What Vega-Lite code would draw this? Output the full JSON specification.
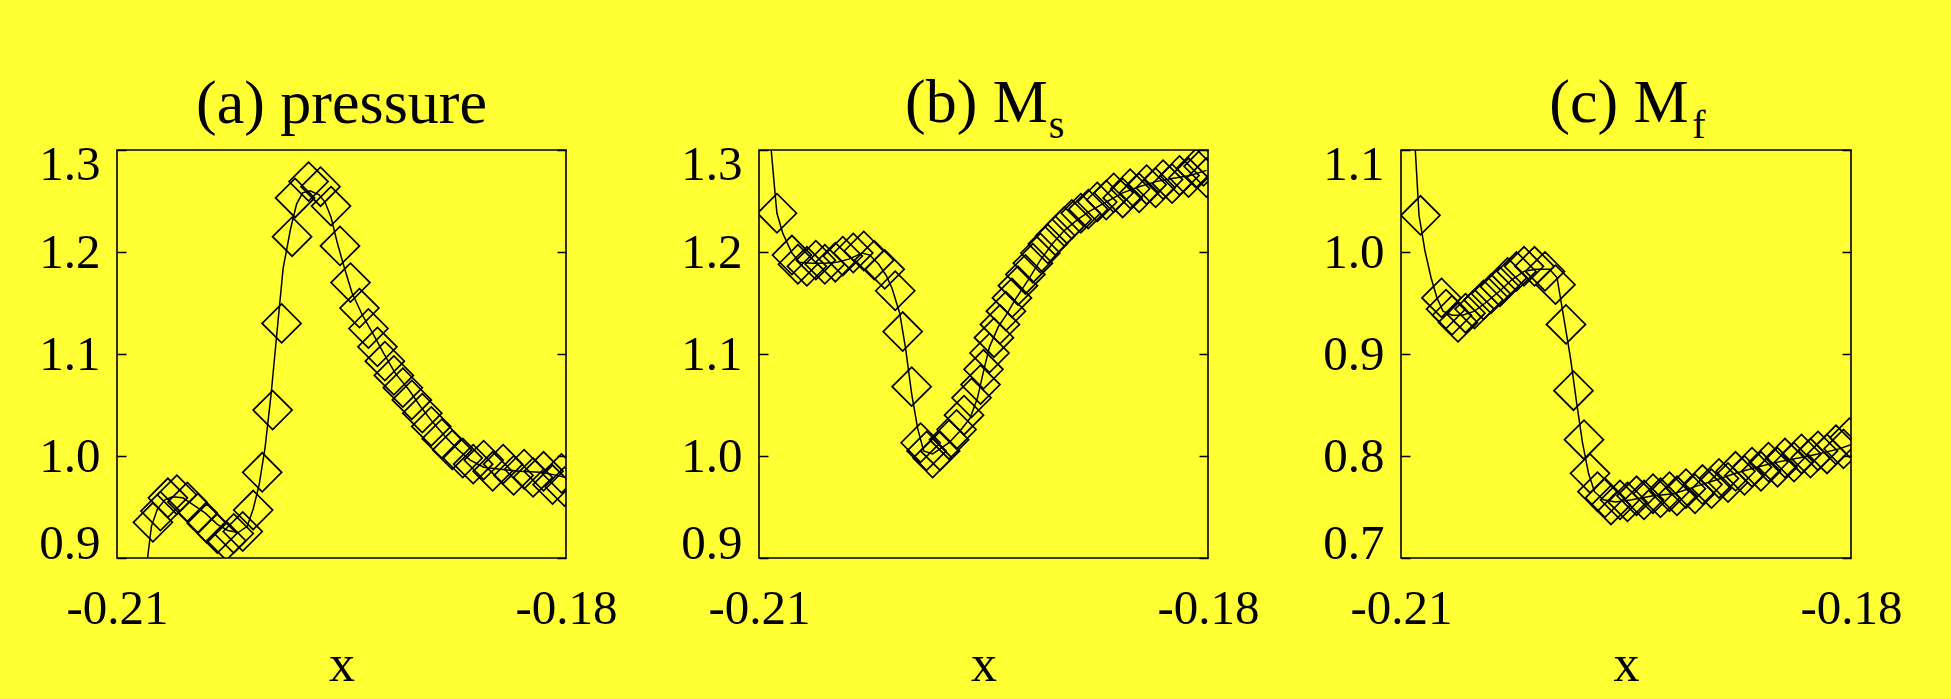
{
  "$schema": "https://vega.github.io/schema/vega-lite/v6.json",
  "background": "#ffff33",
  "padding": {"left": 37, "top": 71, "right": 55, "bottom": 11},
  "spacing": 61,
  "config": {
    "font": "Liberation Serif",
    "view": {"stroke": "black", "strokeWidth": 1.6},
    "axis": {"grid": false, "domain": false, "labelFont": "Liberation Serif", "labelFontSize": 49, "labelColor": "black", "titleFont": "Liberation Serif", "titleColor": "black", "titleFontWeight": "normal", "tickColor": "black", "tickWidth": 1.5},
    "axisX": {"ticks": false, "labelPadding": 26, "labelFlush": false, "labelOverlap": false, "titleFontSize": 52, "titlePadding": 6},
    "title": {"font": "Liberation Serif", "fontSize": 62, "fontWeight": "normal", "color": "black", "anchor": "middle", "frame": "group", "subtitleFont": "Liberation Serif", "subtitleFontSize": 40, "subtitleColor": "black"}
  },
  "datasets": {
    "a_pts": [
      {"x": -0.2076, "y": 0.935}, {"x": -0.2071, "y": 0.946}, {"x": -0.2066, "y": 0.959}, {"x": -0.2060, "y": 0.962}, {"x": -0.2053, "y": 0.955}, {"x": -0.2046, "y": 0.944}, {"x": -0.2040, "y": 0.934}, {"x": -0.2033, "y": 0.924}, {"x": -0.2027, "y": 0.917}, {"x": -0.2022, "y": 0.924}, {"x": -0.2016, "y": 0.926}, {"x": -0.2009, "y": 0.947}, {"x": -0.2003, "y": 0.984}, {"x": -0.1996, "y": 1.045}, {"x": -0.1990, "y": 1.130}, {"x": -0.1983, "y": 1.215}, {"x": -0.1981, "y": 1.253}, {"x": -0.1972, "y": 1.269}, {"x": -0.1964, "y": 1.264}, {"x": -0.1957, "y": 1.245}, {"x": -0.1951, "y": 1.206}, {"x": -0.1944, "y": 1.170}, {"x": -0.1938, "y": 1.145}, {"x": -0.1932, "y": 1.125}, {"x": -0.1926, "y": 1.107}, {"x": -0.1921, "y": 1.093}, {"x": -0.1915, "y": 1.079}, {"x": -0.1909, "y": 1.067}, {"x": -0.1903, "y": 1.055}, {"x": -0.1896, "y": 1.042}, {"x": -0.1890, "y": 1.029}, {"x": -0.1883, "y": 1.017}, {"x": -0.1876, "y": 1.006}, {"x": -0.1869, "y": 0.998}, {"x": -0.1862, "y": 0.992}, {"x": -0.1855, "y": 0.996}, {"x": -0.1849, "y": 0.985}, {"x": -0.1842, "y": 0.992}, {"x": -0.1835, "y": 0.981}, {"x": -0.1828, "y": 0.987}, {"x": -0.1822, "y": 0.979}, {"x": -0.1815, "y": 0.985}, {"x": -0.1809, "y": 0.972}, {"x": -0.1803, "y": 0.983}, {"x": -0.1801, "y": 0.970}
    ],
    "a_line": [
      {"x": -0.2081, "y": 0.883}, {"x": -0.2077, "y": 0.931}, {"x": -0.2073, "y": 0.948}, {"x": -0.2068, "y": 0.957}, {"x": -0.2063, "y": 0.960}, {"x": -0.2056, "y": 0.959}, {"x": -0.2050, "y": 0.953}, {"x": -0.2041, "y": 0.944}, {"x": -0.2033, "y": 0.933}, {"x": -0.2026, "y": 0.927}, {"x": -0.2019, "y": 0.925}, {"x": -0.2013, "y": 0.931}, {"x": -0.2009, "y": 0.948}, {"x": -0.2005, "y": 0.972}, {"x": -0.2001, "y": 1.009}, {"x": -0.1997, "y": 1.061}, {"x": -0.1993, "y": 1.123}, {"x": -0.1989, "y": 1.184}, {"x": -0.1984, "y": 1.223}, {"x": -0.1980, "y": 1.247}, {"x": -0.1976, "y": 1.258}, {"x": -0.1971, "y": 1.260}, {"x": -0.1965, "y": 1.256}, {"x": -0.1961, "y": 1.249}, {"x": -0.1957, "y": 1.234}, {"x": -0.1953, "y": 1.210}, {"x": -0.1948, "y": 1.184}, {"x": -0.1943, "y": 1.160}, {"x": -0.1936, "y": 1.138}, {"x": -0.1929, "y": 1.120}, {"x": -0.1922, "y": 1.101}, {"x": -0.1914, "y": 1.081}, {"x": -0.1905, "y": 1.065}, {"x": -0.1897, "y": 1.048}, {"x": -0.1889, "y": 1.033}, {"x": -0.1880, "y": 1.018}, {"x": -0.1872, "y": 1.006}, {"x": -0.1864, "y": 0.996}, {"x": -0.1855, "y": 0.989}, {"x": -0.1844, "y": 0.987}, {"x": -0.1831, "y": 0.985}, {"x": -0.1817, "y": 0.984}, {"x": -0.1806, "y": 0.981}, {"x": -0.1800, "y": 0.979}
    ],
    "b_pts": [
      {"x": -0.2088, "y": 1.238}, {"x": -0.2078, "y": 1.197}, {"x": -0.2074, "y": 1.188}, {"x": -0.2068, "y": 1.186}, {"x": -0.2062, "y": 1.192}, {"x": -0.2056, "y": 1.188}, {"x": -0.2049, "y": 1.190}, {"x": -0.2044, "y": 1.196}, {"x": -0.2037, "y": 1.199}, {"x": -0.2030, "y": 1.201}, {"x": -0.2023, "y": 1.192}, {"x": -0.2016, "y": 1.183}, {"x": -0.2009, "y": 1.162}, {"x": -0.2004, "y": 1.122}, {"x": -0.1998, "y": 1.068}, {"x": -0.1992, "y": 1.013}, {"x": -0.1988, "y": 1.005}, {"x": -0.1984, "y": 0.998}, {"x": -0.1979, "y": 1.005}, {"x": -0.1973, "y": 1.016}, {"x": -0.1968, "y": 1.026}, {"x": -0.1963, "y": 1.040}, {"x": -0.1958, "y": 1.057}, {"x": -0.1952, "y": 1.070}, {"x": -0.1950, "y": 1.085}, {"x": -0.1946, "y": 1.101}, {"x": -0.1943, "y": 1.116}, {"x": -0.1939, "y": 1.129}, {"x": -0.1935, "y": 1.142}, {"x": -0.1931, "y": 1.155}, {"x": -0.1927, "y": 1.167}, {"x": -0.1922, "y": 1.178}, {"x": -0.1917, "y": 1.189}, {"x": -0.1912, "y": 1.199}, {"x": -0.1907, "y": 1.208}, {"x": -0.1902, "y": 1.216}, {"x": -0.1896, "y": 1.225}, {"x": -0.1891, "y": 1.232}, {"x": -0.1885, "y": 1.238}, {"x": -0.1880, "y": 1.242}, {"x": -0.1874, "y": 1.249}, {"x": -0.1868, "y": 1.251}, {"x": -0.1863, "y": 1.258}, {"x": -0.1857, "y": 1.253}, {"x": -0.1852, "y": 1.262}, {"x": -0.1846, "y": 1.258}, {"x": -0.1841, "y": 1.266}, {"x": -0.1835, "y": 1.263}, {"x": -0.1830, "y": 1.271}, {"x": -0.1824, "y": 1.267}, {"x": -0.1819, "y": 1.275}, {"x": -0.1813, "y": 1.273}, {"x": -0.1808, "y": 1.282}, {"x": -0.1803, "y": 1.284}, {"x": -0.1801, "y": 1.273}
    ],
    "b_line": [
      {"x": -0.2093, "y": 1.319}, {"x": -0.2089, "y": 1.253}, {"x": -0.2088, "y": 1.238}, {"x": -0.2084, "y": 1.218}, {"x": -0.2078, "y": 1.199}, {"x": -0.2073, "y": 1.190}, {"x": -0.2065, "y": 1.189}, {"x": -0.2056, "y": 1.189}, {"x": -0.2048, "y": 1.190}, {"x": -0.2040, "y": 1.193}, {"x": -0.2031, "y": 1.199}, {"x": -0.2026, "y": 1.197}, {"x": -0.2020, "y": 1.188}, {"x": -0.2015, "y": 1.177}, {"x": -0.2011, "y": 1.164}, {"x": -0.2006, "y": 1.140}, {"x": -0.2002, "y": 1.105}, {"x": -0.1998, "y": 1.061}, {"x": -0.1994, "y": 1.027}, {"x": -0.1990, "y": 1.005}, {"x": -0.1984, "y": 1.002}, {"x": -0.1979, "y": 1.007}, {"x": -0.1973, "y": 1.013}, {"x": -0.1966, "y": 1.024}, {"x": -0.1959, "y": 1.037}, {"x": -0.1954, "y": 1.057}, {"x": -0.1950, "y": 1.083}, {"x": -0.1946, "y": 1.107}, {"x": -0.1940, "y": 1.127}, {"x": -0.1934, "y": 1.140}, {"x": -0.1929, "y": 1.153}, {"x": -0.1920, "y": 1.173}, {"x": -0.1912, "y": 1.192}, {"x": -0.1904, "y": 1.208}, {"x": -0.1896, "y": 1.221}, {"x": -0.1887, "y": 1.232}, {"x": -0.1879, "y": 1.240}, {"x": -0.1868, "y": 1.249}, {"x": -0.1857, "y": 1.258}, {"x": -0.1846, "y": 1.264}, {"x": -0.1835, "y": 1.269}, {"x": -0.1824, "y": 1.272}, {"x": -0.1812, "y": 1.275}, {"x": -0.1801, "y": 1.280}
    ],
    "c_pts": [
      {"x": -0.2087, "y": 1.036}, {"x": -0.2073, "y": 0.955}, {"x": -0.2070, "y": 0.944}, {"x": -0.2066, "y": 0.938}, {"x": -0.2062, "y": 0.931}, {"x": -0.2057, "y": 0.940}, {"x": -0.2051, "y": 0.944}, {"x": -0.2045, "y": 0.953}, {"x": -0.2040, "y": 0.959}, {"x": -0.2034, "y": 0.966}, {"x": -0.2029, "y": 0.975}, {"x": -0.2023, "y": 0.981}, {"x": -0.2018, "y": 0.986}, {"x": -0.2011, "y": 0.986}, {"x": -0.2004, "y": 0.981}, {"x": -0.1997, "y": 0.968}, {"x": -0.1990, "y": 0.929}, {"x": -0.1985, "y": 0.864}, {"x": -0.1978, "y": 0.816}, {"x": -0.1974, "y": 0.783}, {"x": -0.1969, "y": 0.765}, {"x": -0.1964, "y": 0.759}, {"x": -0.1960, "y": 0.752}, {"x": -0.1954, "y": 0.757}, {"x": -0.1949, "y": 0.755}, {"x": -0.1943, "y": 0.761}, {"x": -0.1938, "y": 0.757}, {"x": -0.1932, "y": 0.763}, {"x": -0.1927, "y": 0.759}, {"x": -0.1921, "y": 0.765}, {"x": -0.1916, "y": 0.761}, {"x": -0.1910, "y": 0.768}, {"x": -0.1904, "y": 0.763}, {"x": -0.1899, "y": 0.772}, {"x": -0.1893, "y": 0.768}, {"x": -0.1888, "y": 0.778}, {"x": -0.1882, "y": 0.774}, {"x": -0.1877, "y": 0.785}, {"x": -0.1871, "y": 0.781}, {"x": -0.1866, "y": 0.789}, {"x": -0.1860, "y": 0.785}, {"x": -0.1855, "y": 0.794}, {"x": -0.1849, "y": 0.789}, {"x": -0.1844, "y": 0.798}, {"x": -0.1838, "y": 0.794}, {"x": -0.1833, "y": 0.802}, {"x": -0.1827, "y": 0.798}, {"x": -0.1822, "y": 0.805}, {"x": -0.1816, "y": 0.802}, {"x": -0.1810, "y": 0.811}, {"x": -0.1805, "y": 0.807}, {"x": -0.1801, "y": 0.818}
    ],
    "c_line": [
      {"x": -0.2091, "y": 1.114}, {"x": -0.2088, "y": 1.036}, {"x": -0.2084, "y": 1.001}, {"x": -0.2080, "y": 0.975}, {"x": -0.2076, "y": 0.955}, {"x": -0.2072, "y": 0.942}, {"x": -0.2066, "y": 0.938}, {"x": -0.2059, "y": 0.938}, {"x": -0.2051, "y": 0.942}, {"x": -0.2043, "y": 0.951}, {"x": -0.2034, "y": 0.962}, {"x": -0.2026, "y": 0.973}, {"x": -0.2018, "y": 0.981}, {"x": -0.2010, "y": 0.983}, {"x": -0.2001, "y": 0.983}, {"x": -0.1996, "y": 0.975}, {"x": -0.1992, "y": 0.940}, {"x": -0.1987, "y": 0.896}, {"x": -0.1983, "y": 0.853}, {"x": -0.1979, "y": 0.813}, {"x": -0.1975, "y": 0.783}, {"x": -0.1971, "y": 0.765}, {"x": -0.1965, "y": 0.757}, {"x": -0.1957, "y": 0.755}, {"x": -0.1946, "y": 0.757}, {"x": -0.1932, "y": 0.761}, {"x": -0.1918, "y": 0.763}, {"x": -0.1904, "y": 0.770}, {"x": -0.1891, "y": 0.776}, {"x": -0.1877, "y": 0.783}, {"x": -0.1863, "y": 0.789}, {"x": -0.1849, "y": 0.794}, {"x": -0.1835, "y": 0.798}, {"x": -0.1822, "y": 0.802}, {"x": -0.1808, "y": 0.807}, {"x": -0.1800, "y": 0.811}
    ]
  },
  "hconcat": [
    {
      "title": {"text": "(a) pressure", "offset": 4},
      "width": 449, "height": 408,
      "resolve": {"axis": {"y": "independent"}},
      "layer": [
        {
          "data": {"name": "a_line"},
          "mark": {"type": "line", "stroke": "black", "strokeWidth": 1.5, "clip": true},
          "encoding": {
            "x": {"field": "x", "type": "quantitative", "scale": {"domain": [-0.21, -0.18], "nice": false, "zero": false}, "axis": {"title": "x", "values": [-0.21, -0.18], "format": ".2f", "labelExpr": "replace(datum.label, '\u2212', '-')"}},
            "y": {"field": "y", "type": "quantitative", "scale": {"domain": [0.9, 1.3], "nice": false, "zero": false},
                  "axis": {"orient": "left", "values": [0.9, 1.0, 1.1, 1.2, 1.3], "format": ".1f", "tickSize": -9, "labelPadding": 26, "labelFlush": true, "labelFlushOffset": 10, "labelOverlap": false, "title": null}}
          }
        },
        {
          "data": {"name": "a_pts"},
          "mark": {"type": "point", "shape": "diamond", "size": 1521, "filled": false, "stroke": "black", "strokeWidth": 1.7, "opacity": 1, "clip": true},
          "encoding": {
            "x": {"field": "x", "type": "quantitative", "axis": {"title": "x", "values": [-0.21, -0.18], "format": ".2f", "labelExpr": "replace(datum.label, '\u2212', '-')"}},
            "y": {"field": "y", "type": "quantitative", "axis": {"orient": "right", "values": [0.9, 1.0, 1.1, 1.2, 1.3], "labels": false, "tickSize": -9, "title": null}}
          }
        }
      ]
    },
    {
      "title": {"text": "(b) M", "subtitle": "\u200b\u00a0\u00a0\u00a0\u00a0\u00a0\u00a0\u00a0\u00a0\u00a0\u00a0\u00a0\u00a0\u00a0\u00a0\u00a0\u00a0s", "subtitlePadding": -29, "dx": -7, "offset": -7},
      "width": 449, "height": 408,
      "resolve": {"axis": {"y": "independent"}},
      "layer": [
        {
          "data": {"name": "b_line"},
          "mark": {"type": "line", "stroke": "black", "strokeWidth": 1.5, "clip": true},
          "encoding": {
            "x": {"field": "x", "type": "quantitative", "scale": {"domain": [-0.21, -0.18], "nice": false, "zero": false}, "axis": {"title": "x", "values": [-0.21, -0.18], "format": ".2f", "labelExpr": "replace(datum.label, '\u2212', '-')"}},
            "y": {"field": "y", "type": "quantitative", "scale": {"domain": [0.9, 1.3], "nice": false, "zero": false},
                  "axis": {"orient": "left", "values": [0.9, 1.0, 1.1, 1.2, 1.3], "format": ".1f", "tickSize": -9, "labelPadding": 26, "labelFlush": true, "labelFlushOffset": 10, "labelOverlap": false, "title": null}}
          }
        },
        {
          "data": {"name": "b_pts"},
          "mark": {"type": "point", "shape": "diamond", "size": 1521, "filled": false, "stroke": "black", "strokeWidth": 1.7, "opacity": 1, "clip": true},
          "encoding": {
            "x": {"field": "x", "type": "quantitative", "axis": {"title": "x", "values": [-0.21, -0.18], "format": ".2f", "labelExpr": "replace(datum.label, '\u2212', '-')"}},
            "y": {"field": "y", "type": "quantitative", "axis": {"orient": "right", "values": [0.9, 1.0, 1.1, 1.2, 1.3], "labels": false, "tickSize": -9, "title": null}}
          }
        }
      ]
    },
    {
      "title": {"text": "(c) M", "subtitle": "\u200b\u00a0\u00a0\u00a0\u00a0\u00a0\u00a0\u00a0\u00a0\u00a0\u00a0\u00a0\u00a0\u00a0\u00a0\u00a0\u00a0f", "subtitlePadding": -29, "dx": -7, "offset": -7},
      "width": 450, "height": 408,
      "resolve": {"axis": {"y": "independent"}},
      "layer": [
        {
          "data": {"name": "c_line"},
          "mark": {"type": "line", "stroke": "black", "strokeWidth": 1.5, "clip": true},
          "encoding": {
            "x": {"field": "x", "type": "quantitative", "scale": {"domain": [-0.21, -0.18], "nice": false, "zero": false}, "axis": {"title": "x", "values": [-0.21, -0.18], "format": ".2f", "labelExpr": "replace(datum.label, '\u2212', '-')"}},
            "y": {"field": "y", "type": "quantitative", "scale": {"domain": [0.7, 1.1], "nice": false, "zero": false},
                  "axis": {"orient": "left", "values": [0.7, 0.8, 0.9, 1.0, 1.1], "format": ".1f", "tickSize": -9, "labelPadding": 26, "labelFlush": true, "labelFlushOffset": 10, "labelOverlap": false, "title": null}}
          }
        },
        {
          "data": {"name": "c_pts"},
          "mark": {"type": "point", "shape": "diamond", "size": 1521, "filled": false, "stroke": "black", "strokeWidth": 1.7, "opacity": 1, "clip": true},
          "encoding": {
            "x": {"field": "x", "type": "quantitative", "axis": {"title": "x", "values": [-0.21, -0.18], "format": ".2f", "labelExpr": "replace(datum.label, '\u2212', '-')"}},
            "y": {"field": "y", "type": "quantitative", "axis": {"orient": "right", "values": [0.7, 0.8, 0.9, 1.0, 1.1], "labels": false, "tickSize": -9, "title": null}}
          }
        }
      ]
    }
  ]
}
